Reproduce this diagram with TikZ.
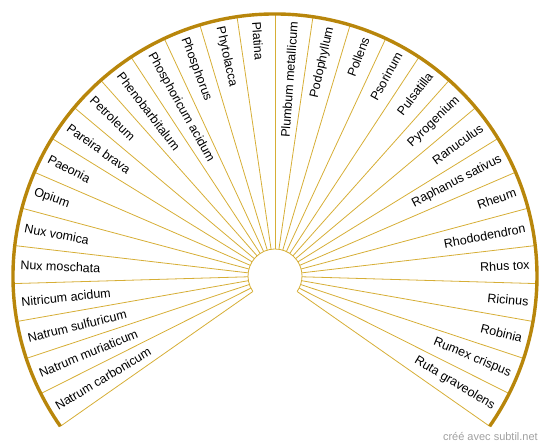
\documentclass[tikz,border=0pt]{standalone}
\usepackage{fontspec}
\setmainfont{Liberation Sans}
\usetikzlibrary{positioning}
\definecolor{rimgold}{HTML}{B8860B}
\definecolor{raygold}{HTML}{D6AE36}
\definecolor{creditgray}{HTML}{A0A0A0}

\begin{document}
\begin{tikzpicture}[x=1pt, y=1pt,
  rim/.style={draw=rimgold, line width=3.4pt},
  ray/.style={draw=raygold, line width=0.8pt},
  lbl/.style={font=\fontsize{12.5}{14}\selectfont, inner sep=0pt, text=black},
  credit/.style={font=\fontsize{11}{13}\selectfont, text=creditgray, inner sep=0pt}
]
\useasboundingbox (0,0) rectangle (550,447);
\coordinate (c) at (275,171);

% spokes
\foreach \k in {0,...,30} {
  \pgfmathsetmacro\a{215-8.33333*\k}
  \draw[ray] ([shift={(\a:27)}]c) -- ([shift={(\a:262)}]c);
}
\draw[ray] ([shift={(215:27)}]c) arc[start angle=215, end angle=-35, radius=27];
\draw[rim] ([shift={(215:262)}]c) arc[start angle=215, end angle=-35, radius=262];

% left half, read towards the hub
\foreach \name [count=\i from 0] in {Natrum carbonicum, Natrum muriaticum,
    Natrum sulfuricum, Nitricum acidum, Nux moschata, Nux vomica, Opium, Paeonia,
    Pareira brava, Petroleum, Phenobarbitalum, Phosphoricum acidum, Phosphorus,
    Phytolacca, Platina} {
  \pgfmathsetmacro\ang{210.83333-8.33333*\i}
  \node[lbl, anchor=west, rotate=\ang-180] (l\i) at ([shift={(\ang:255)}]c) {\name};
}
% right half
\foreach \name [count=\i from 0] in {Plumbum metallicum, Podophyllum, Pollens,
    Psorinum, Pulsatilla, Pyrogenium, Ranuculus, Raphanus sativus, Rheum,
    Rhododendron, Rhus tox, Ricinus, Robinia, Rumex crispus, Ruta graveolens} {
  \pgfmathsetmacro\ang{85.83333-8.33333*\i}
  \node[lbl, anchor=east, rotate=\ang] (r\i) at ([shift={(\ang:255)}]c) {\name};
}

\node[credit, anchor=base east] (cr) at (538,6) {créé avec subtil.net};
\end{tikzpicture}
\end{document}
